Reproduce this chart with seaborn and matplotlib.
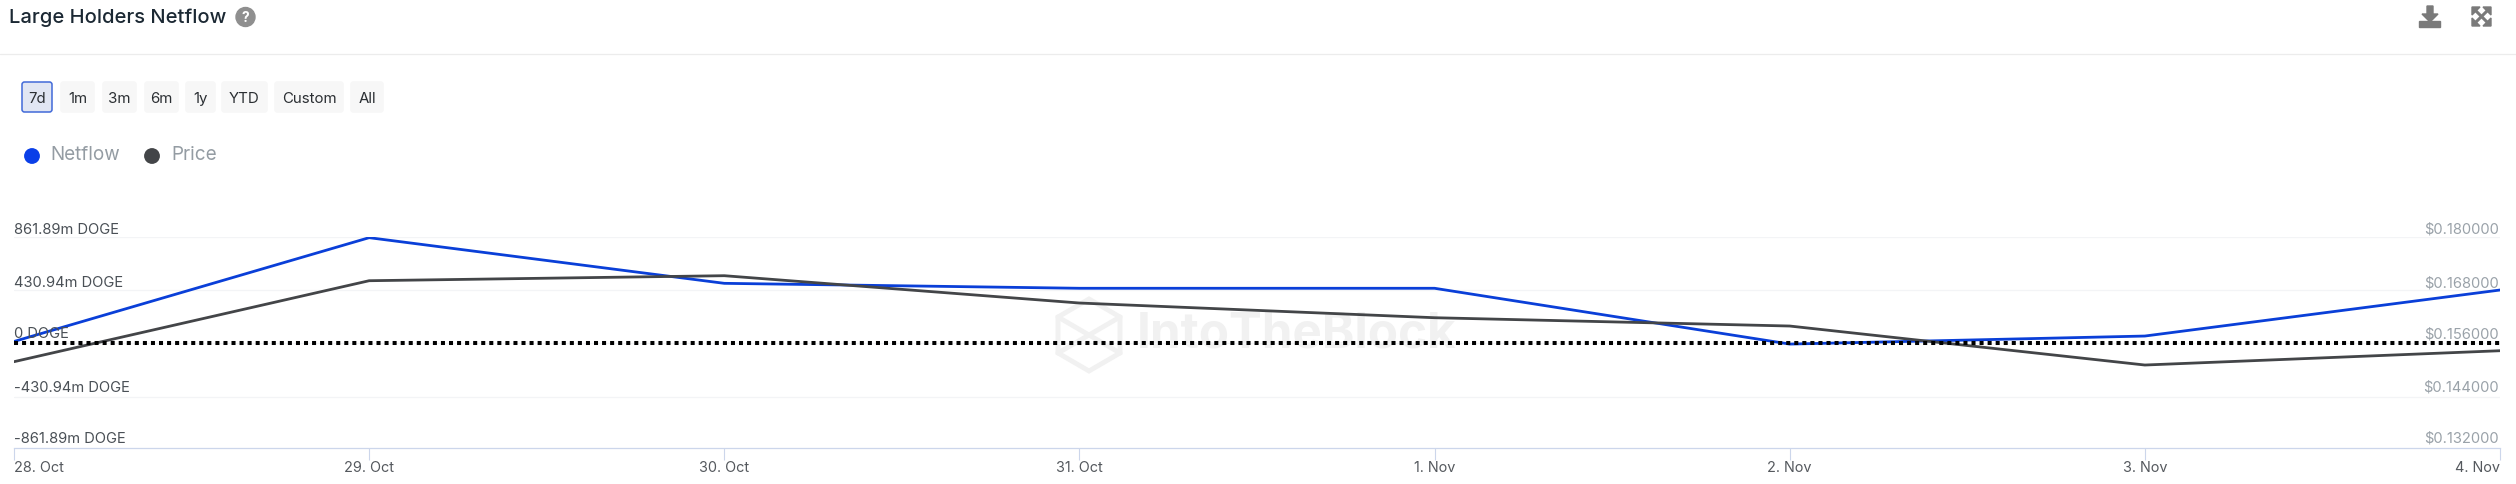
import matplotlib
matplotlib.use("Agg")
import matplotlib.pyplot as plt
from matplotlib.patches import FancyBboxPatch, Circle, Polygon, Rectangle
import pandas as pd
import seaborn as sns

dates = ['28. Oct', '29. Oct', '30. Oct', '31. Oct', '1. Nov', '2. Nov', '3. Nov', '4. Nov']
netflow = [15, 854, 485, 445, 445, -6, 59, 431]
price = [0.15186, 0.17009, 0.17122, 0.16507, 0.16176, 0.15989, 0.15111, 0.15433]
left_ticks = [861.89, 430.94, 0, -430.94, -861.89]
left_labels = ['861.89m DOGE', '430.94m DOGE', '0 DOGE', '-430.94m DOGE', '-861.89m DOGE']
right_ticks = [0.18, 0.168, 0.156, 0.144, 0.132]
right_labels = ['$0.180000', '$0.168000', '$0.156000', '$0.144000', '$0.132000']
buttons = ['7d', '1m', '3m', '6m', '1y', 'YTD', 'Custom', 'All']
button_left = [21, 60, 102, 144, 185, 221, 274, 350]
button_right = [53, 95, 137, 179, 216, 268, 344, 384]

W, H = 2516, 484
sns.set_theme(style='white')
plt.rcParams['font.family'] = ['Inter', 'DejaVu Sans']

df = pd.DataFrame({'day': range(len(dates)), 'netflow': netflow, 'price': price})

fig = plt.figure(figsize=(W / 100, H / 100), dpi=100)
ax = fig.add_axes([14 / W, 1 - 448 / H, (2500 - 14) / W, (448 - 236.7) / H])
ax.patch.set_alpha(0)
ax2 = ax.twinx()
ax2.patch.set_alpha(0)

ax.set_xlim(0, 7)
ax.set_ylim(-846, 861.89)
ax2.set_ylim(0.13243, 0.18)

for t in left_ticks[:-1]:
    ax.axhline(t, color='#f3f4f6', lw=0.9, zorder=0)

sns.lineplot(data=df, x='day', y='netflow', ax=ax, color='#0a3fd8', lw=2.0, zorder=3)
sns.lineplot(data=df, x='day', y='price', ax=ax2, color='#434548', lw=2.0, zorder=3)
ax2.axhline(0.156, color='black', lw=2.9, ls=(0, (1, 1)), zorder=4)

for a in (ax, ax2):
    a.set_xlabel('')
    a.set_ylabel('')
    a.set_yticks([])
    for s in a.spines.values():
        s.set_visible(False)
ax.spines['bottom'].set_visible(True)
ax.spines['bottom'].set_color('#ccd6eb')
ax.spines['bottom'].set_linewidth(0.9)
ax.set_xticks(range(len(dates)))
ax.set_xticklabels([])
ax.tick_params(axis='x', length=8.6, width=0.8, color='#ccd6eb', bottom=True)

# y tick labels sit just above their grid lines, inside the plot
label_nudge = [7, 7, 9, 9, 11]
for t, lab, nudge in zip(left_ticks, left_labels, label_nudge):
    ax2.annotate(lab, (0, (t + 846) / (861.89 + 846)), xycoords='axes fraction', xytext=(0.5, nudge),
                 textcoords='offset pixels', fontsize=10.6, color='#4a5056', ha='left', va='center',
                 zorder=5, annotation_clip=False)
for t, lab, nudge in zip(right_ticks, right_labels, label_nudge):
    ax2.annotate(lab, (1, t), xycoords=ax2.get_yaxis_transform(), xytext=(-1, nudge),
                 textcoords='offset pixels', fontsize=10.6, color='#9aa2a9', ha='right', va='center',
                 zorder=5, annotation_clip=False)

for i, lab in enumerate(dates):
    ha = 'left' if i == 0 else ('right' if i == len(dates) - 1 else 'center')
    ax.annotate(lab, (i, 0), xycoords=ax.get_xaxis_transform(), xytext=(0, -19.5),
                textcoords='offset pixels', fontsize=10.4, color='#55595e', ha=ha, va='center',
                annotation_clip=False)

# everything around the chart is placed on a pixel canvas
bg = fig.add_axes([0, 0, 1, 1], zorder=-1)
bg.set_xlim(0, W)
bg.set_ylim(H, 0)
bg.axis('off')

mark = '#f1f1f1'
bg.text(1137, 335, 'IntoTheBlock', fontsize=35.5, fontweight='bold', color=mark, ha='left', va='center')
bg.add_patch(Polygon([(1089, 299), (1120, 317), (1120, 353), (1089, 371), (1058, 353), (1058, 317)],
                     closed=True, fill=False, ec=mark, lw=3.5))
bg.plot([1058, 1089, 1120], [317, 335, 317], color=mark, lw=3.5)
bg.plot([1058, 1089, 1120], [353, 335, 353], color=mark, lw=3.5)

bg.text(9, 18, 'Large Holders Netflow', fontsize=14.5, fontweight='medium', color='#1b2833',
        ha='left', va='center')
bg.add_patch(Circle((245.5, 17), 9.5, color='#8f8f8f'))
bg.text(245.5, 17.5, '?', fontsize=10, fontweight='bold', color='white', ha='center', va='center')
bg.plot([0, W], [54, 54], color='#ececec', lw=0.9)

# download and expand icons
icon = '#7a7a7a'
bg.add_patch(Polygon([(2427, 6), (2433, 6), (2433, 14), (2438, 14), (2430, 22), (2422, 14), (2427, 14)], color=icon))
bg.add_patch(Rectangle((2419, 21), 21, 6, color=icon))
bg.plot([2475, 2488], [10, 23], color=icon, lw=2.2)
bg.plot([2488, 2475], [10, 23], color=icon, lw=2.2)
for tip, a, b in [((2472, 7), (2480, 7), (2472, 15)), ((2491, 7), (2483, 7), (2491, 15)),
                  ((2472, 26), (2480, 26), (2472, 18)), ((2491, 26), (2483, 26), (2491, 18))]:
    bg.add_patch(Polygon([tip, a, b], color=icon))

# range buttons
for i, (lab, x0, x1) in enumerate(zip(buttons, button_left, button_right)):
    active = i == 0
    bg.add_patch(FancyBboxPatch((x0 + 1, 82), x1 - x0 - 2, 30, boxstyle='round,pad=0,rounding_size=2.5',
                                fc='#e1e6f3' if active else '#f7f7f7',
                                ec='#4169d8' if active else '#f7f7f7', lw=1.1))
    bg.text((x0 + x1) / 2, 99, lab, fontsize=10.8, color='#2b2f33', ha='center', va='center')

# legend
bg.add_patch(Circle((32, 156), 7.2, color='#0a3fe8'))
bg.text(50.5, 155.5, 'Netflow', fontsize=13.6, color='#949ca3', ha='left', va='center')
bg.add_patch(Circle((152, 156), 7.2, color='#434548'))
bg.text(171, 155.5, 'Price', fontsize=13.6, color='#949ca3', ha='left', va='center')

fig.savefig('out.png', dpi=100, facecolor='white')
